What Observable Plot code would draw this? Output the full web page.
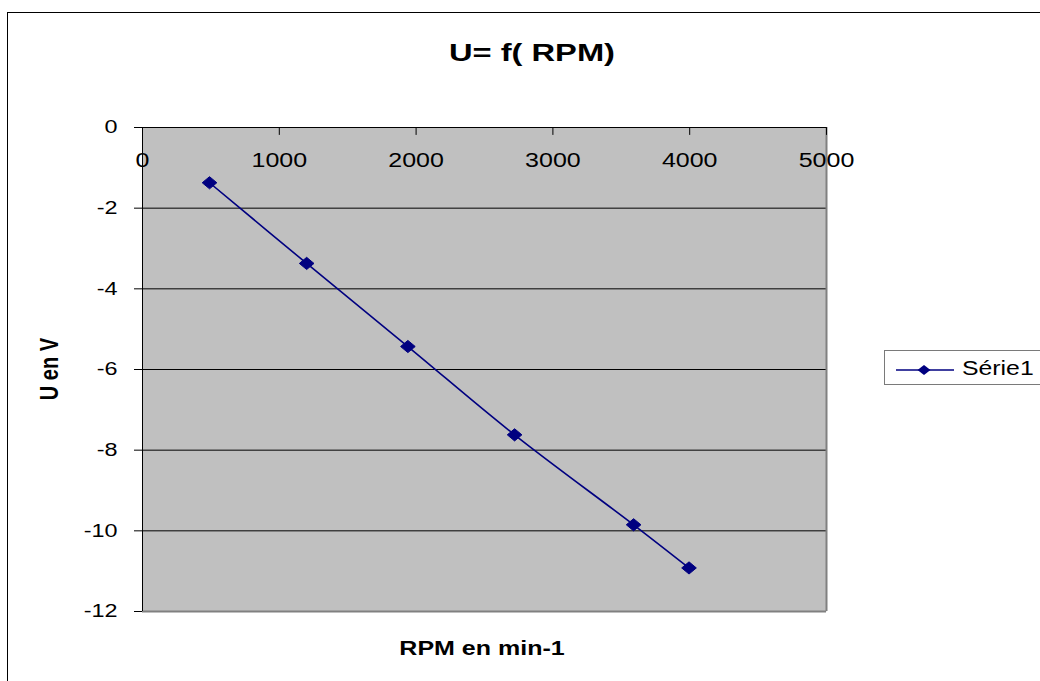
<!DOCTYPE html>
<html>
<head>
<meta charset="utf-8">
<script src="https://cdn.jsdelivr.net/npm/d3@7"></script>
<script src="https://cdn.jsdelivr.net/npm/@observablehq/plot@0.6"></script>
<style>
  html, body { margin: 0; padding: 0; background: #fff; }
  #chart { position: relative; width: 1040px; height: 681px; overflow: hidden;
           font-family: "Liberation Sans", Arial, sans-serif; color: #000; }
  #chart > svg { position: absolute; left: 0; top: 0; }
  .outer { position: absolute; left: 7px; top: 12px; width: 1100px; height: 720px;
           border: 1px solid #000; box-sizing: border-box; }
  .lbl { position: absolute; white-space: nowrap; line-height: 1; font-weight: bold; }
  .legend { position: absolute; left: 884px; top: 350px; width: 200px; height: 35px;
            border: 1px solid #7a7a7a; box-sizing: border-box; background: #fff; }
  .legend svg { position: absolute; left: 10px; top: 9px; }
  .legend span { position: absolute; left: 77px; top: 7px; font-size: 20px; line-height: 1;
                 transform: scaleX(1.24); transform-origin: 0 50%; }
</style>
</head>
<body>
<div id="chart">
  <div class="outer"></div>
</div>
<script>
// Measurements: motor speed (min-1) and output voltage (V)
const rpm   = [490, 1200, 1940, 2720, 3590, 3995];
const volts = [-1.37, -3.37, -5.43, -7.62, -9.85, -10.92];

// Axis ticks and gridlines
const xTicks = [0, 1000, 2000, 3000, 4000, 5000];
const yTicks = [0, -2, -4, -6, -8, -10, -12];
const gridLines = [-2, -4, -6, -8, -10];

const seriesName = "Série1";
const points = rpm.map((r, i) => ({rpm: r, u: volts[i]}));

const navy = "#000080";

// Slightly wide diamond marker
const wideDiamond = {
  draw(context, size) {
    const h = Math.sqrt(size) * 0.62625;
    const w = h * 1.2;
    context.moveTo(0, -h);
    context.lineTo(w, 0);
    context.lineTo(0, h);
    context.lineTo(-w, 0);
    context.closePath();
  }
};
// Plain tick segment for the x axis (drawn pointing into the plot area)
const tickShape = {
  draw(context, l) {
    context.moveTo(0, 0);
    context.lineTo(0, -l);
  }
};

const svg = Plot.plot({
  width: 1040,
  height: 681,
  marginLeft: 142,
  marginTop: 127,
  marginRight: 214,
  marginBottom: 70,
  style: {fontFamily: "Liberation Sans, Arial, sans-serif", color: "#000", background: "transparent", overflow: "visible"},
  x: {domain: [0, 5000], axis: null},
  y: {domain: [-12, 0]},
  marks: [
    Plot.frame({fill: "#c0c0c0", stroke: "none"}),
    Plot.ruleY(gridLines, {stroke: "#000", strokeWidth: 1}),
    Plot.ruleX([5000], {stroke: "#808080", strokeWidth: 2}),
    Plot.ruleY([-12], {stroke: "#808080", strokeWidth: 2}),
    Plot.ruleY([0], {stroke: "#000", strokeWidth: 1}),
    Plot.ruleX([0], {stroke: "#000", strokeWidth: 1}),
    Plot.axisY({ticks: yTicks, tickSize: 8, tickPadding: 17, fontSize: 18,
                tickFormat: d => String(d), label: null, stroke: "#000"}),
    Plot.vector(xTicks, {x: d => d, y: () => 0, length: 7, rotate: 180, anchor: "start",
                         shape: tickShape, stroke: "#000", strokeWidth: 1}),
    Plot.text(xTicks, {x: d => d, y: () => 0, dy: 33, text: d => String(d),
                       fontSize: 20, fill: "#000"}),
    Plot.line(points, {x: "rpm", y: "u", curve: "catmull-rom", stroke: navy, strokeWidth: 1.6}),
    Plot.dot(points, {x: "rpm", y: "u", symbol: wideDiamond, r: 5.5, fill: navy, stroke: navy, strokeWidth: 1})
  ]
});

const chart = document.getElementById("chart");
chart.appendChild(svg);

// Wide lettering for the tick labels
function stretch(t, k) {
  const len = t.getComputedTextLength();
  t.setAttribute("textLength", len * k);
  t.setAttribute("lengthAdjust", "spacingAndGlyphs");
}
svg.querySelectorAll('g[aria-label="y-axis tick label"] text').forEach(t => stretch(t, 1.3));
svg.querySelectorAll('g[aria-label="text"] text').forEach(t => stretch(t, 1.25));

// Title and axis titles
function addLabel(text, x, y, size, transform) {
  const el = document.createElement("div");
  el.className = "lbl";
  el.textContent = text;
  el.style.left = x + "px";
  el.style.top = y + "px";
  el.style.fontSize = size + "px";
  el.style.transform = transform;
  chart.appendChild(el);
}
addLabel("U= f( RPM)", 532, 53, 24, "translate(-50%, -50%) scaleX(1.36)");
addLabel("RPM en min-1", 482, 648, 20, "translate(-50%, -50%) scaleX(1.25)");
addLabel("U en V", 49, 369, 20, "translate(-50%, -50%) scaleX(1.3) rotate(-90deg)");

// Legend
const legend = document.createElement("div");
legend.className = "legend";
const sw = d3.create("svg").attr("width", 62).attr("height", 18);
sw.append("line").attr("x1", 1).attr("x2", 59).attr("y1", 10).attr("y2", 10)
  .attr("stroke", navy).attr("stroke-width", 1.6);
sw.append("path").attr("d", "M29,5 L35.5,10 L29,15 L22.5,10 Z").attr("fill", navy);
legend.appendChild(sw.node());
const lt = document.createElement("span");
lt.textContent = seriesName;
legend.appendChild(lt);
chart.appendChild(legend);
</script>
</body>
</html>
